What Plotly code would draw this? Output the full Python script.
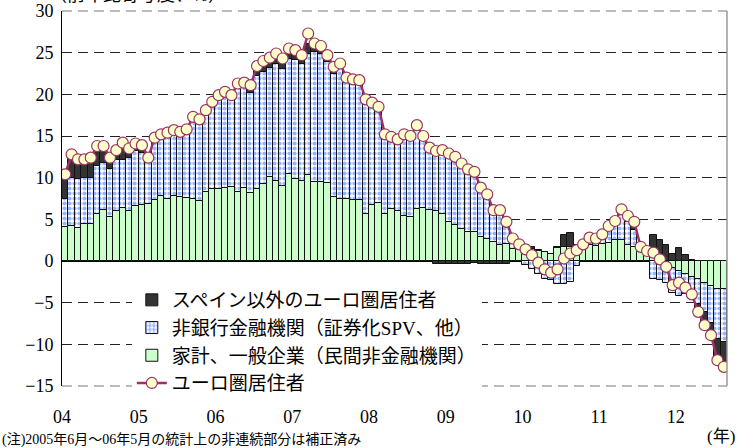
import plotly.graph_objects as go

# monthly, Jan 2004 - Aug 2012 (前年比寄与度、%)
start_year = 2004
year_ticks = [2004, 2005, 2006, 2007, 2008, 2009, 2010, 2011, 2012]
year_labels = ['04', '05', '06', '07', '08', '09', '10', '11', '12']

households = [
    4.1, 4.2, 4.0, 4.5, 4.5, 5.6, 6.1, 5.3, 6.0, 6.4, 6.0, 6.6,
    6.7, 6.9, 7.3, 7.8, 7.5, 7.8, 7.7, 7.6, 7.5, 7.2, 8.3, 8.6,
    8.7, 8.8, 8.9, 8.3, 8.8, 8.2, 8.6, 9.2, 10.1, 9.6, 9.0, 10.4,
    9.9, 9.6, 10.3, 9.5, 9.5, 9.4, 7.7, 7.5, 7.4, 7.3, 7.3, 5.7,
    6.7, 7.0, 5.7, 6.3, 6.0, 5.4, 5.3, 6.2, 6.4, 6.1, 6.0, 5.6,
    4.7, 4.3, 3.9, 3.5, 3.5, 2.9, 2.7, 2.3, 1.9, 2.1, 1.5, 1.7,
    1.6, 1.4, 1.2, 1.1, 0.9, 1.6, 1.7, 1.7, 1.6, 1.7, 1.9, 1.8,
    2.0, 2.2, 2.5, 2.5, 1.9, 1.7, 1.1, 0.7, 0.4, 0.2, -0.3, -0.8,
    -1.2, -1.5, -1.9, -2.2, -2.6, -3.0, -3.3, -3.3,
]
nonbank = [
    3.4, 5.8, 5.8, 5.5, 5.5, 5.8, 5.7, 5.8, 6.1, 5.7, 6.4, 6.6,
    6.3, 5.0, 7.2, 7.2, 7.7, 7.7, 7.7, 8.1, 9.7, 9.7, 9.7, 10.4,
    11.0, 11.3, 10.8, 12.7, 12.3, 12.0, 13.6, 13.5, 13.1, 14.0, 14.1, 13.8,
    14.2, 14.0, 14.5, 15.6, 15.4, 14.5, 14.8, 15.6, 14.0, 14.0, 14.0, 13.3,
    11.9, 11.2, 9.2, 8.4, 8.4, 9.7, 9.6, 10.1, 8.6, 7.5, 7.6, 8.1,
    8.6, 8.6, 8.2, 7.9, 7.4, 6.3, 5.7, 4.2, 4.5, 2.9, 0.9, 0.0,
    -0.5, -1.0, -1.5, -2.1, -2.3, -2.7, -2.8, -2.5, -0.6, 0.0, 0.6, 0.6,
    1.0, 1.8, 2.0, 3.2, 2.8, 2.0, 0.4, 0.2, -2.1, -2.3, -2.3, -3.0,
    -3.0, -2.4, -2.2, -2.9, -3.5, -4.4, -6.0, -6.4,
]
other_euro = [
    2.9, 2.8, 2.4, 2.2, 2.4, 2.4, 2.0, 1.3, 1.2, 2.1, 1.1, 0.9,
    0.9, 0.5, 0.3, 0.2, 0.2, 0.2, 0.1, 0.1, 0.1, 0.1, 0.1, 0.1,
    0.2, 0.2, 0.2, 0.3, 0.3, 0.9, 1.2, 1.3, 1.2, 1.3, 1.2, 1.3,
    1.2, 1.1, 1.3, 1.0, 0.9, 0.8, 0.8, 0.6, 0.6, 0.5, 0.4, 0.4,
    0.4, 0.3, 0.3, 0.2, 0.2, 0.1, 0.1, 0.0, 0.0, 0.0, -0.4, -0.4,
    -0.4, -0.4, -0.4, -0.4, -0.2, -0.4, -0.4, -0.4, -0.3, -0.3, 0.3, 0.3,
    0.3, 0.3, 0.1, 0.0, 0.0, 0.1, 1.4, 1.7, 0.3, 0.3, 0.3, 0.3,
    0.2, 0.2, 0.3, 0.5, 0.7, 1.0, 0.2, 0.3, 2.7, 2.3, 1.9, 0.9,
    1.6, 0.7, 0.1, -1.0, -1.6, -1.5, -2.6, -3.0,
]
euro_total = [
    10.4, 12.8, 12.2, 12.2, 12.4, 13.8, 13.8, 12.4, 13.3, 14.2, 13.5, 14.1,
    13.9, 12.4, 14.8, 15.2, 15.4, 15.7, 15.5, 15.8, 17.3, 17.0, 18.1, 19.1,
    19.9, 20.3, 19.9, 21.3, 21.4, 21.1, 23.4, 24.0, 24.4, 24.9, 24.3, 25.5,
    25.3, 24.7, 27.3, 26.1, 25.8, 24.7, 23.3, 23.7, 22.0, 21.8, 21.7, 19.4,
    19.0, 18.5, 15.2, 14.9, 14.6, 15.2, 15.0, 16.3, 15.0, 13.6, 13.2, 13.3,
    12.9, 12.5, 11.7, 11.0, 10.7, 8.8, 8.0, 6.1, 6.1, 4.7, 2.7, 2.0,
    1.4, 0.7, -0.2, -1.0, -1.4, -1.0, 0.3, 0.9, 1.3, 2.0, 2.8, 2.7,
    3.2, 4.2, 4.8, 6.2, 5.4, 4.7, 1.7, 1.2, 1.0, 0.2, -0.7, -2.9,
    -2.6, -3.2, -4.0, -6.1, -7.7, -8.9, -11.9, -12.7,
]

x = [start_year + (i + 0.5) / 12 for i in range(len(euro_total))]
x_end = start_year + len(euro_total) / 12

serif = 'Liberation Serif, Times New Roman, serif'
cjk = 'Liberation Serif, Noto Sans CJK JP'

fig = go.Figure()
fig.add_trace(go.Bar(x=x, y=households, name='家計、一般企業（民間非金融機関）', legendrank=3,
                     marker=dict(color='#CCFFCC', line=dict(color='#111111', width=1))))
fig.add_trace(go.Bar(x=x, y=nonbank, name='非銀行金融機関（証券化SPV、他）', legendrank=2,
                     marker=dict(color='white', line=dict(color='#111111', width=1),
                                 pattern=dict(shape='.', fgcolor='#2F66FF', bgcolor='white',
                                              size=5, solidity=0.55))))
fig.add_trace(go.Bar(x=x, y=other_euro, name='スペイン以外のユーロ圏居住者', legendrank=1,
                     marker=dict(color='#333333', line=dict(color='#111111', width=1))))
fig.add_trace(go.Scatter(x=x, y=euro_total, name='ユーロ圏居住者', legendrank=4, mode='lines+markers',
                         line=dict(color='#993366', width=2.5),
                         marker=dict(symbol='circle', size=11, color='#FFFFCC',
                                     line=dict(color='#993366', width=1.2))))

fig.update_layout(
    width=739, height=448,
    margin=dict(l=62, r=12, t=11, b=62, autoexpand=False),
    paper_bgcolor='white', plot_bgcolor='white',
    barmode='relative', bargap=0,
    font=dict(family=serif, size=18, color='black'),
    showlegend=True,
    legend=dict(x=0.105, y=0.28, xanchor='left', yanchor='top', bgcolor='white',
                font=dict(family=cjk, size=19), tracegroupgap=0),
    xaxis=dict(range=[start_year, x_end], tickvals=year_ticks, ticktext=year_labels,
               ticks='outside', ticklen=14, tickcolor='rgba(0,0,0,0)', automargin=False,
               showgrid=False, zeroline=False, showline=False,
               tickfont=dict(family=serif, size=18)),
    xaxis2=dict(overlaying='x', anchor='free', position=1 / 3, range=[start_year, x_end],
                tickvals=year_ticks, ticks='outside', ticklen=5, tickcolor='black',
                automargin=False,
                showticklabels=False, showgrid=False, zeroline=False, showline=False),
    yaxis=dict(range=[-15, 30], dtick=5, showline=True, linecolor='black', linewidth=1,
               ticks='outside', ticklen=4, tickcolor='rgba(0,0,0,0)', automargin=False,
               showgrid=True, gridcolor='#222222', griddash='10px,6px', gridwidth=1,
               zeroline=True, zerolinecolor='black', zerolinewidth=1,
               tickfont=dict(family=serif, size=18)),
)

# frame: grey right edge, grey dashed top and bottom edges
fig.add_shape(type='line', xref='paper', yref='paper', x0=1, x1=1, y0=0, y1=1,
              line=dict(color='#999999', width=1.5))
for edge in (0, 1):
    fig.add_shape(type='line', xref='paper', yref='paper', x0=0, x1=1, y0=edge, y1=edge,
                  layer='below', line=dict(color='#777777', width=1, dash='10px,6px'))

fig.add_annotation(text='（前年比寄与度、%）', xref='paper', yref='paper', x=-0.022, y=1,
                   xanchor='left', yanchor='bottom', yshift=4, showarrow=False,
                   font=dict(family=cjk, size=18))
fig.add_annotation(text='(注)2005年6月～06年5月の統計上の非連続部分は補正済み', xref='paper', yref='paper',
                   x=-62 / 665, y=-0.142, xanchor='left', yanchor='middle', showarrow=False,
                   font=dict(family=cjk, size=14))
fig.add_annotation(text='(年)', xref='paper', yref='paper', x=1.015, y=-0.135,
                   xanchor='right', yanchor='middle', showarrow=False,
                   font=dict(family=cjk, size=17))

fig.write_html('out.html', config={'displayModeBar': False},
               post_script="document.body.style.margin='0';")
